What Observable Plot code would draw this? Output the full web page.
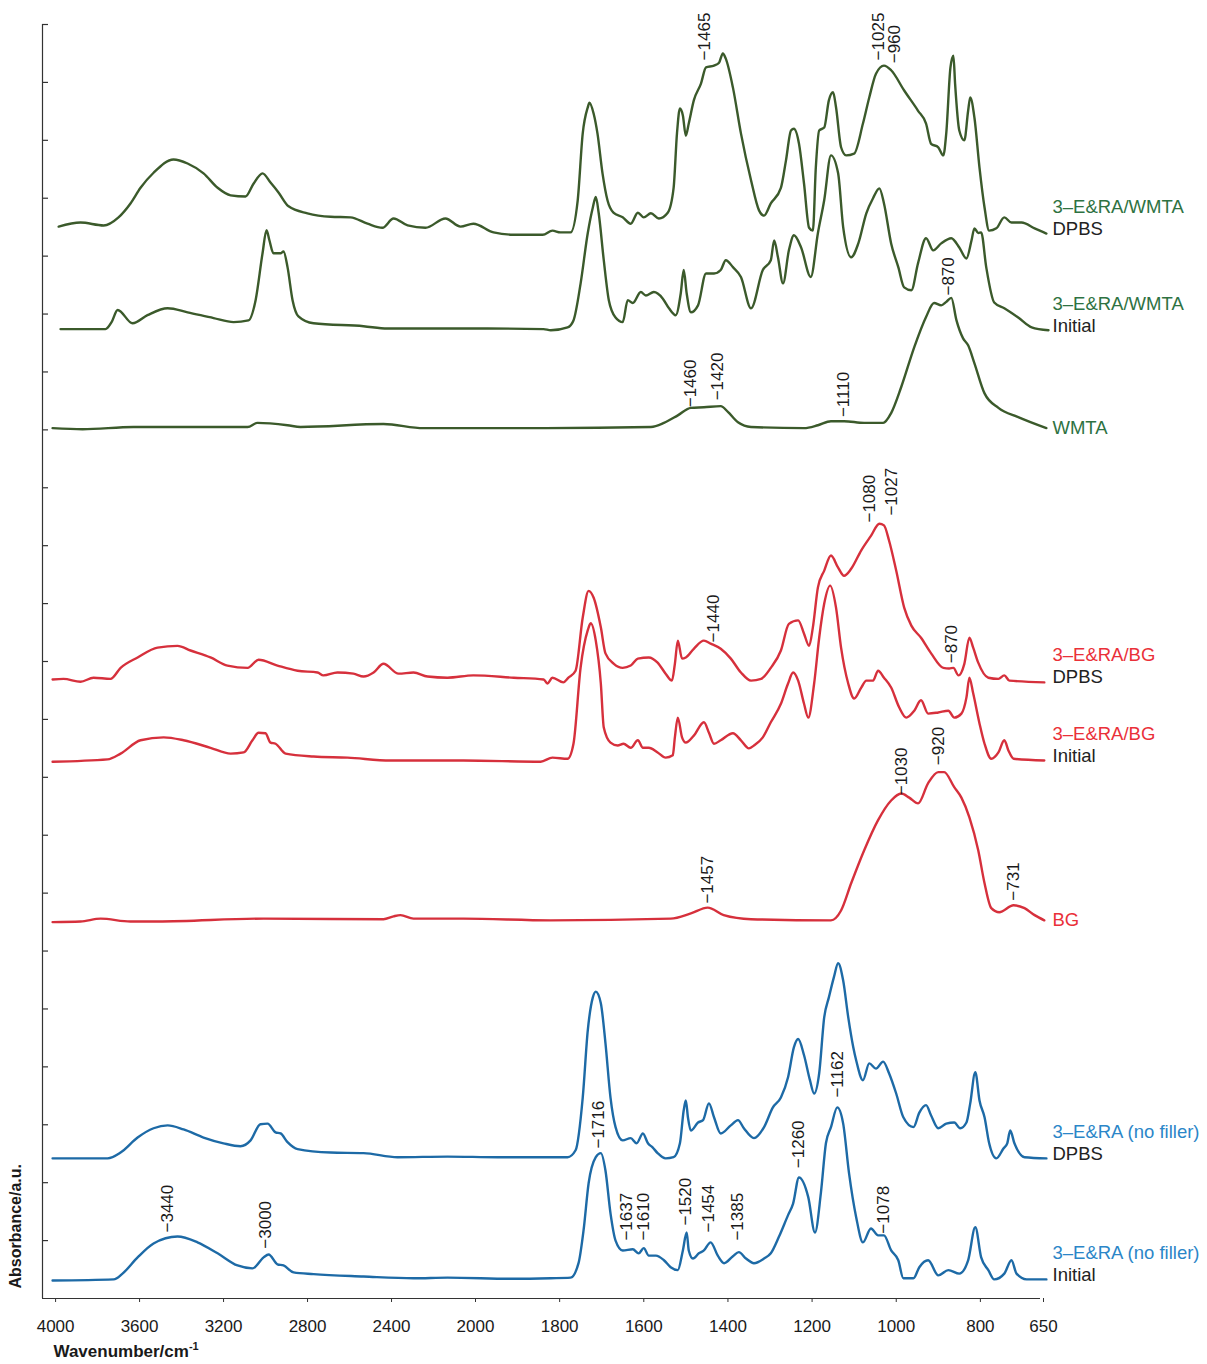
<!DOCTYPE html>
<html>
<head>
<meta charset="utf-8">
<script src="https://cdn.jsdelivr.net/npm/d3@7"></script>
<script src="https://cdn.jsdelivr.net/npm/@observablehq/plot@0.6"></script>
<style>
  html, body { margin: 0; padding: 0; background: #fff; }
  #chart svg { display: block; }
</style>
</head>
<body>
<div id="chart"></div>
<script>
// ---------- DATA (wavenumber cm-1, absorbance above each trace's own baseline, a.u.) ----------
const wnTicks = [4000, 3600, 3200, 2800, 2400, 2000, 1800, 1600, 1400, 1200, 1000, 800, 650];

const seriesNames = [
  "3–E&RA/WMTA DPBS", "3–E&RA/WMTA Initial", "WMTA",
  "3–E&RA/BG DPBS", "3–E&RA/BG Initial", "BG",
  "3–E&RA (no filler) DPBS", "3–E&RA (no filler) Initial"
];
const seriesGroup = ["WMTA", "WMTA", "WMTA", "BG", "BG", "BG", "none", "none"];
const labelLine1 = ["3–E&RA/WMTA", "3–E&RA/WMTA", "WMTA", "3–E&RA/BG", "3–E&RA/BG", "BG", "3–E&RA (no filler)", "3–E&RA (no filler)"];
const labelLine2 = ["DPBS", "Initial", "", "DPBS", "Initial", "", "DPBS", "Initial"];
// vertical stacking offset of each trace (a.u.)
const offsets = [18.39, 16.72, 15.03, 10.67, 9.29, 6.53, 2.42, 0.33];

const wmtaCompositeDPBS = [[3971,0.12],[3867,0.19],[3757,0.14],[3686,0.28],[3629,0.52],[3581,0.79],[3519,1.05],[3424,1.28],[3357,1.21],[3281,1.04],[3214,0.79],[3152,0.66],[3081,0.64],[3043,0.86],[3000,1.04],[2962,0.88],[2924,0.71],[2876,0.47],[2786,0.35],[2676,0.29],[2581,0.28],[2500,0.17],[2429,0.10],[2376,0.26],[2309,0.14],[2224,0.10],[2129,0.26],[2057,0.12],[1998,0.17],[1950,0.02],[1902,-0.02],[1833,-0.02],[1810,0.05],[1791,0.02],[1767,0.02],[1750,0.57],[1738,1.73],[1726,2.18],[1722,2.26],[1712,2.07],[1703,1.73],[1691,1.04],[1679,0.57],[1665,0.36],[1643,0.28],[1624,0.17],[1607,0.36],[1593,0.28],[1576,0.35],[1557,0.26],[1536,0.36],[1522,0.79],[1514,1.73],[1507,2.16],[1500,2.04],[1493,1.69],[1486,1.90],[1474,2.30],[1457,2.59],[1445,2.87],[1426,2.90],[1414,2.95],[1405,3.11],[1398,3.02],[1381,2.52],[1362,1.73],[1338,0.92],[1319,0.40],[1307,0.31],[1291,0.52],[1267,0.79],[1255,1.26],[1243,1.78],[1236,1.81],[1224,1.55],[1212,0.86],[1200,0.10],[1191,0.05],[1184,1.14],[1176,1.78],[1164,1.83],[1153,2.30],[1143,2.44],[1136,2.18],[1124,1.49],[1112,1.35],[1093,1.38],[1072,1.90],[1057,2.35],[1041,2.76],[1022,2.90],[1005,2.82],[974,2.47],[941,2.12],[922,1.90],[910,1.55],[893,1.49],[881,1.35],[874,1.73],[864,2.87],[857,3.07],[853,2.59],[843,1.78],[831,1.61],[822,2.12],[817,2.35],[807,2.00],[795,1.14],[783,0.45],[772,0.05],[755,0.09],[736,0.28],[719,0.19],[695,0.19],[664,0.09],[636,0]];

const wmtaCompositeInitial = [[3962,0.02],[3748,0.02],[3719,0.14],[3690,0.35],[3619,0.12],[3548,0.26],[3452,0.38],[3357,0.31],[3233,0.21],[3138,0.14],[3067,0.17],[3033,0.52],[3000,1.33],[2981,1.73],[2967,1.55],[2948,1.33],[2914,1.33],[2900,1.36],[2881,1.09],[2857,0.52],[2829,0.24],[2757,0.12],[2519,0.07],[2405,0.03],[2200,0.03],[1964,0.03],[1831,0.02],[1814,0],[1774,0.05],[1760,0.17],[1743,0.81],[1726,1.68],[1714,2.12],[1707,2.30],[1700,2.02],[1688,1.21],[1676,0.52],[1660,0.22],[1643,0.14],[1631,0.52],[1619,0.47],[1600,0.66],[1588,0.60],[1569,0.66],[1548,0.55],[1533,0.38],[1517,0.26],[1505,0.64],[1498,1.04],[1491,0.64],[1481,0.31],[1464,0.43],[1445,0.98],[1426,0.98],[1410,1.04],[1398,1.21],[1381,1.09],[1362,0.92],[1338,0.38],[1310,1.04],[1291,1.21],[1283,1.55],[1274,1.26],[1262,0.81],[1248,1.38],[1236,1.64],[1219,1.43],[1196,0.92],[1179,1.68],[1164,2.25],[1148,3.02],[1131,2.71],[1119,1.78],[1100,1.26],[1083,1.50],[1064,2.02],[1048,2.28],[1033,2.45],[1022,2.19],[1005,1.50],[988,1.09],[974,0.74],[957,0.69],[941,1.16],[922,1.59],[905,1.38],[886,1.50],[862,1.59],[843,1.43],[826,1.24],[814,1.55],[807,1.76],[798,1.68],[791,1.69],[779,1.09],[760,0.48],[736,0.38],[703,0.22],[671,0.05],[631,0]];

const wmta = [[4000,0],[3857,-0.02],[3614,0.02],[3071,0.02],[3024,0.09],[2881,0.05],[2819,0.02],[2424,0.07],[2233,0],[1826,0],[1576,0.02],[1545,0.09],[1512,0.22],[1481,0.35],[1450,0.36],[1410,0.38],[1393,0.28],[1369,0.10],[1338,0.02],[1212,0],[1179,0.05],[1148,0.12],[1117,0.12],[1069,0.09],[1024,0.09],[1005,0.26],[981,0.71],[950,1.40],[922,1.92],[903,2.16],[886,2.12],[874,2.18],[862,2.25],[850,1.87],[834,1.55],[822,1.43],[807,1.12],[783,0.60],[750,0.35],[703,0.19],[636,0]];

const bgCompositeDPBS = [[4000,0.02],[3948,0.03],[3867,-0.02],[3805,0.05],[3724,0.03],[3676,0.22],[3595,0.40],[3500,0.57],[3405,0.60],[3343,0.52],[3248,0.40],[3167,0.26],[3071,0.22],[3019,0.36],[2929,0.26],[2833,0.17],[2738,0.14],[2710,0.09],[2643,0.14],[2567,0.12],[2519,0.07],[2471,0.14],[2424,0.29],[2352,0.12],[2281,0.14],[2214,0.07],[2119,0.05],[1998,0.09],[1902,0.05],[1831,0.02],[1822,-0.05],[1810,0.05],[1784,-0.03],[1772,0.05],[1755,0.17],[1738,1.09],[1724,1.55],[1712,1.43],[1695,0.92],[1684,0.47],[1664,0.29],[1643,0.22],[1624,0.26],[1607,0.38],[1581,0.40],[1560,0.31],[1541,0.12],[1526,0],[1519,0.29],[1512,0.69],[1502,0.38],[1493,0.40],[1474,0.55],[1450,0.69],[1434,0.64],[1410,0.55],[1386,0.38],[1362,0.14],[1338,0],[1314,0.03],[1291,0.22],[1267,0.52],[1248,0.98],[1226,1.04],[1212,0.81],[1200,0.60],[1191,0.92],[1179,1.61],[1164,1.90],[1148,2.16],[1131,1.95],[1117,1.81],[1100,1.93],[1076,2.25],[1053,2.50],[1033,2.71],[1022,2.68],[1010,2.42],[993,1.90],[974,1.26],[957,0.95],[934,0.74],[910,0.47],[881,0.22],[867,0.21],[857,0.22],[845,0.09],[831,0.29],[819,0.74],[810,0.57],[798,0.31],[774,0.05],[750,0.03],[736,0.09],[724,0],[641,-0.03]];

const bgCompositeInitial = [[4000,-0.02],[3738,0.02],[3676,0.12],[3581,0.35],[3471,0.40],[3376,0.35],[3248,0.22],[3152,0.12],[3090,0.14],[3048,0.35],[3019,0.48],[2986,0.47],[2962,0.31],[2938,0.29],[2890,0.12],[2757,0.07],[2595,0.05],[2390,0],[2043,0],[1838,-0.02],[1810,0.05],[1774,0.03],[1760,0.29],[1743,1.61],[1726,2.25],[1719,2.37],[1707,2.07],[1695,1.33],[1688,0.57],[1672,0.31],[1655,0.26],[1641,0.29],[1624,0.22],[1607,0.35],[1595,0.22],[1581,0.22],[1560,0.14],[1541,0.05],[1524,0.09],[1519,0.40],[1512,0.74],[1502,0.40],[1493,0.31],[1474,0.43],[1450,0.66],[1438,0.48],[1426,0.29],[1410,0.35],[1381,0.47],[1362,0.35],[1343,0.21],[1331,0.26],[1310,0.40],[1291,0.66],[1267,0.98],[1250,1.33],[1238,1.52],[1226,1.38],[1212,0.98],[1202,0.74],[1188,1.33],[1176,2.12],[1164,2.71],[1150,3.02],[1136,2.64],[1124,1.95],[1107,1.33],[1093,1.07],[1076,1.26],[1064,1.38],[1048,1.38],[1036,1.55],[1022,1.43],[1005,1.26],[986,0.92],[969,0.74],[950,0.86],[934,1.04],[917,0.81],[893,0.83],[869,0.86],[855,0.74],[838,0.81],[826,1.09],[819,1.43],[810,1.16],[795,0.64],[783,0.29],[767,0.03],[750,0.14],[736,0.35],[726,0.17],[714,0.03],[641,0]];

const bg = [[4000,-0.03],[3867,-0.02],[3771,0.03],[3629,-0.02],[3500,-0.02],[2995,0.03],[2424,0.02],[2376,0.07],[2343,0.09],[2281,0.03],[2043,0.03],[1814,0],[1529,0.03],[1481,0.12],[1441,0.22],[1403,0.09],[1338,0.02],[1148,0],[1124,0.17],[1100,0.64],[1069,1.21],[1036,1.73],[1005,2.07],[981,2.19],[962,2.12],[941,2.02],[917,2.37],[893,2.56],[879,2.56],[855,2.30],[838,2.12],[819,1.78],[798,1.21],[783,0.64],[767,0.21],[748,0.14],[714,0.26],[688,0.21],[664,0.09],[641,0]];

const noFillerDPBS = [[4000,0],[3738,0],[3676,0.10],[3595,0.36],[3519,0.52],[3452,0.57],[3376,0.50],[3281,0.36],[3186,0.26],[3105,0.21],[3057,0.31],[3010,0.59],[2976,0.60],[2938,0.45],[2914,0.43],[2881,0.28],[2833,0.16],[2676,0.10],[2519,0.09],[2357,0.02],[2119,0.03],[1940,0.02],[1826,0.02],[1774,0.02],[1755,0.14],[1738,1.05],[1726,2.21],[1714,2.78],[1707,2.88],[1695,2.68],[1684,1.99],[1672,1.05],[1660,0.54],[1643,0.31],[1624,0.35],[1610,0.26],[1595,0.43],[1583,0.26],[1572,0.19],[1560,0.09],[1541,0],[1522,0.02],[1507,0.26],[1498,0.83],[1493,1.00],[1488,0.71],[1481,0.48],[1464,0.62],[1452,0.66],[1438,0.95],[1426,0.71],[1410,0.43],[1386,0.57],[1369,0.66],[1355,0.52],[1331,0.35],[1307,0.54],[1286,0.88],[1267,1.05],[1250,1.40],[1236,1.92],[1226,2.06],[1212,1.78],[1198,1.35],[1188,1.12],[1176,1.47],[1164,2.44],[1153,2.78],[1141,3.13],[1131,3.37],[1119,3.07],[1107,2.44],[1095,1.92],[1088,1.69],[1072,1.35],[1057,1.64],[1041,1.55],[1024,1.67],[1010,1.47],[993,1.12],[976,0.71],[952,0.54],[938,0.79],[922,0.92],[910,0.74],[893,0.52],[874,0.60],[855,0.62],[841,0.52],[826,0.62],[817,0.95],[805,1.49],[795,1.00],[783,0.71],[772,0.26],[755,0],[738,0.17],[729,0.26],[722,0.48],[712,0.26],[688,0.02],[636,0]];

const noFillerInitial = [[4000,-0.02],[3709,0],[3667,0.10],[3595,0.38],[3519,0.62],[3405,0.74],[3310,0.64],[3214,0.45],[3119,0.24],[3048,0.19],[2995,0.38],[2971,0.43],[2929,0.26],[2900,0.24],[2852,0.12],[2757,0.09],[2519,0.05],[2281,0.02],[2119,0.03],[1902,0.01],[1814,0.02],[1767,0.03],[1748,0.28],[1736,0.85],[1724,1.66],[1707,2.11],[1695,2.18],[1684,1.88],[1672,1.14],[1660,0.67],[1643,0.50],[1619,0.52],[1605,0.45],[1593,0.54],[1581,0.41],[1564,0.41],[1545,0.33],[1529,0.21],[1512,0.16],[1500,0.50],[1491,0.81],[1486,0.50],[1476,0.36],[1462,0.45],[1450,0.50],[1434,0.64],[1417,0.41],[1402,0.28],[1381,0.40],[1367,0.47],[1350,0.36],[1331,0.28],[1307,0.36],[1291,0.45],[1272,0.73],[1250,1.11],[1238,1.31],[1224,1.76],[1202,1.42],[1186,0.81],[1172,1.49],[1160,2.35],[1148,2.63],[1133,2.97],[1119,2.69],[1105,1.83],[1088,1.07],[1072,0.64],[1053,0.88],[1036,0.76],[1022,0.76],[1005,0.50],[988,0.33],[976,0.02],[952,0.02],[938,0.21],[917,0.33],[893,0.07],[869,0.16],[843,0.10],[822,0.33],[805,0.90],[791,0.38],[774,0.16],[760,0],[736,0.10],[719,0.33],[707,0.10],[683,0],[636,0]];

const spectra = [wmtaCompositeDPBS, wmtaCompositeInitial, wmta, bgCompositeDPBS, bgCompositeInitial, bg, noFillerDPBS, noFillerInitial];

// peak annotations: label, drawn position (cm-1) and absorbance level of the label foot
const peakLabels = ["1465","1025","960","870","1460","1420","1110","1080","1027","1440","870","1030","920","1457","731","1716","1162","1260","1637","1610","1520","1454","1385","1078","3440","3000"];
const peakWn =     [1448, 1036, 998, 869, 1481, 1417, 1117, 1057, 1005, 1426, 862, 981, 893, 1441, 714, 1700, 1133, 1224, 1633, 1593, 1493, 1438, 1369, 1022, 3452, 2986];
const peakLevel =  [21.38, 21.38, 21.33, 17.32, 15.39, 15.51, 15.22, 13.40, 13.52, 11.33, 10.97, 8.69, 9.21, 6.82, 6.87, 2.59, 3.47, 2.25, 1.00, 1.00, 1.26, 1.14, 1.00, 1.12, 1.14, 0.86];

// ---------- STYLE ----------
const lineColor = {WMTA: "#3b5a2b", BG: "#d6303c", none: "#1d6aa6"};
const labelColor = {WMTA: "#2e7242", BG: "#ea3039", none: "#2b86c8"};
const font = "'Liberation Sans', Arial, Helvetica, sans-serif";

// x: instrument-style axis, expanded 2x below 2000 cm-1
const xDomain = [4048, 2000, 650];

const annots = peakLabels.map((l, i) => ({label: "−" + l, wn: peakWn[i], v: peakLevel[i]}));
const ends = seriesNames.map((s, i) => ({i, v: offsets[i], l1: labelLine1[i], l2: labelLine2[i], g: seriesGroup[i]}));

const marks = [];
spectra.forEach((pts, i) => {
  marks.push(Plot.line(pts, {
    x: d => d[0], y: d => offsets[i] + d[1],
    stroke: lineColor[seriesGroup[i]], strokeWidth: 2.4, curve: "monotone-x"
  }));
});

marks.push(
  Plot.ruleX([xDomain[0]], {stroke: "#333", strokeWidth: 1.2}),
  Plot.ruleY([0], {stroke: "#333", strokeWidth: 1.2}),
  Plot.tickY(d3.range(1, 23), {y: d => d, stroke: "#333", strokeWidth: 1.2, insetRight: 992}),
  Plot.axisX({ticks: wnTicks, tickFormat: d => String(d), tickSize: 4, tickPadding: 17, dx: 3, fontSize: 17, label: null, stroke: "#333", color: "#1a1a1a"}),
  Plot.text(annots, {x: "wn", y: "v", text: "label", rotate: -90, textAnchor: "start", fontSize: 17, fill: "#1a1a1a"}),
  Plot.text(ends.filter(d => d.l2), {x: xDomain[2], y: "v", text: "l1", dx: 12, dy: -26, textAnchor: "start", fontSize: 18.5, fill: d => labelColor[d.g]}),
  Plot.text(ends.filter(d => d.l2), {x: xDomain[2], y: "v", text: "l2", dx: 12, dy: -4, textAnchor: "start", fontSize: 18.5, fill: "#222"}),
  Plot.text(ends.filter(d => !d.l2), {x: xDomain[2], y: "v", text: "l1", dx: 12, dy: 0, textAnchor: "start", fontSize: 18.5, fill: d => labelColor[d.g]}),
  Plot.text(["Absorbance/a.u."], {frameAnchor: "bottom-left", text: d => d, rotate: -90, textAnchor: "start", dx: -22, dy: -10, fontSize: 16, fontWeight: "bold", fill: "#1a1a1a"}),
  Plot.text(["Wavenumber/cm"], {frameAnchor: "bottom-left", text: d => d, textAnchor: "start", dx: 11, dy: 58, fontSize: 17, fontWeight: "bold", fill: "#1a1a1a"})
);

const chart = Plot.plot({
  width: 1207,
  height: 1364,
  marginLeft: 42,
  marginRight: 167,
  marginTop: 24,
  marginBottom: 66,
  style: {fontFamily: font, background: "#fff", overflow: "visible"},
  x: {type: "linear", domain: xDomain, range: [42, 472, 1040]},
  y: {domain: [0, 22], range: [1298, 24], axis: null},
  color: {type: "identity"},
  marks
});

d3.select(chart).selectAll("text")
  .filter(function() { return this.textContent === "Wavenumber/cm"; })
  .append("tspan").attr("dy", "-7").attr("font-size", "11").text("-1");

document.getElementById("chart").appendChild(chart);
</script>
</body>
</html>
